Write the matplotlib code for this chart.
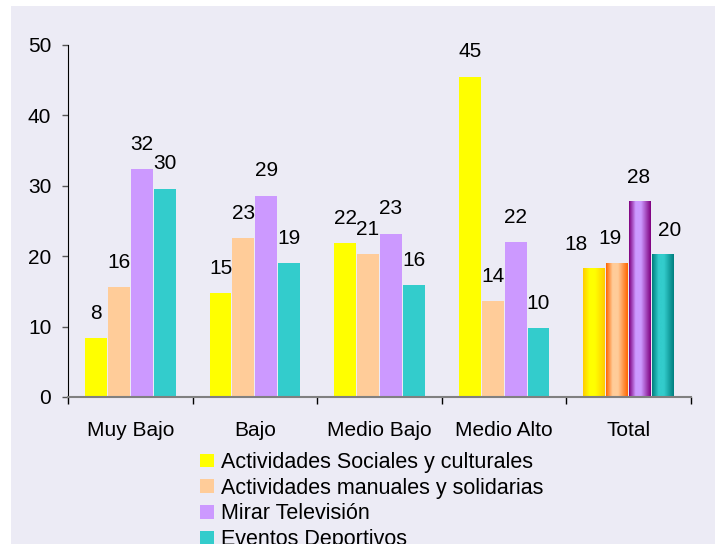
import numpy as np
import matplotlib.pyplot as plt
from matplotlib.colors import LinearSegmentedColormap
from matplotlib.patches import Rectangle

plt.rcParams['font.family'] = ['Liberation Sans', 'DejaVu Sans']

# categories and series
categorias = ['Muy Bajo', 'Bajo', 'Medio Bajo', 'Medio Alto', 'Total']
series = ['Actividades Sociales y culturales', 'Actividades manuales y solidarias',
          'Mirar Televisión', 'Eventos Deportivos']
sociales = [8.4, 14.8, 21.9, 45.5, 18.2]
manuales = [15.6, 22.6, 20.3, 13.6, 19.0]
television = [32.4, 28.6, 23.2, 22.0, 27.7]
deportivos = [29.6, 19.0, 15.9, 9.8, 20.2]
etiquetas = [
    [8, 15, 22, 45, 18],
    [16, 23, 21, 14, 19],
    [32, 29, 23, 22, 28],
    [30, 19, 16, 10, 20],
]

colores = ['#ffff00', '#ffcc99', '#cc99ff', '#33cccc']
# edge colours for the cylinder-like "Total" bars
bordes = ['#ffcc00', '#ff6600', '#800080', '#008080']
# labels of the Total group are spread out a bit (points)
desplaz_total = [-13, -5, -1, 5]

fondo = '#ecebf5'
fs = 15

fig = plt.figure(figsize=(7.15, 5.44), dpi=100, facecolor='white')
fig.patches.append(Rectangle((11 / 715, 0), 1, 1 - 6 / 544, transform=fig.transFigure,
                             facecolor=fondo, edgecolor='none', zorder=-1))
ax = fig.add_axes([68 / 715, 1 - 397 / 544, (691 - 68) / 715, (397 - 45) / 544])
ax.set_zorder(2)
ax.patch.set_visible(False)

x = np.arange(len(categorias))
ancho = 0.176
paso = 0.184
datos = [sociales, manuales, television, deportivos]

for i, (vals, col) in enumerate(zip(datos, colores)):
    pos = x + (i - 1.5) * paso
    ax.bar(pos[:-1], vals[:-1], width=ancho, color=col, label=series[i], zorder=2)
    # gradient bar for the Total group
    bt = ax.bar(pos[-1], vals[-1], width=ancho, color='none', zorder=2)[0]
    cmap = LinearSegmentedColormap.from_list(
        'g', [(0, bordes[i]), (0.3, col), (0.55, col), (1, bordes[i])])
    grad = np.linspace(0, 1, 64).reshape(1, -1)
    ax.imshow(grad, cmap=cmap, aspect='auto', zorder=2,
              extent=[bt.get_x(), bt.get_x() + bt.get_width(), 0, bt.get_height()])
    for j, (p, v, lab) in enumerate(zip(pos, vals, etiquetas[i])):
        dx = desplaz_total[i] if j == len(pos) - 1 else 0
        ax.annotate(str(lab), (p, v), xytext=(dx, 11), textcoords='offset points',
                    ha='center', va='bottom', fontsize=fs)

ax.set_xlim(-0.5, 4.47)
ax.set_ylim(0, 50)
ax.set_yticks([0, 10, 20, 30, 40, 50])
ax.tick_params(axis='y', labelsize=fs, length=4, width=1, color='#555555', pad=8)
ax.set_xticks(np.arange(-0.5, 5, 1))
ax.set_xticklabels([])
ax.set_xticks(x, minor=True)
ax.set_xticklabels(categorias, minor=True)
ax.tick_params(axis='x', which='major', length=5, width=1, color='black')
ax.tick_params(axis='x', which='minor', length=0, labelsize=fs, pad=17)

for s in ['top', 'right']:
    ax.spines[s].set_visible(False)
ax.spines['left'].set_color('black')
ax.spines['bottom'].set_color('#808080')
ax.spines['bottom'].set_linewidth(1.5)

fig.legend(loc='upper left', bbox_to_anchor=(200 / 715, 1 - 452 / 544), frameon=False,
           fontsize=15.5, borderpad=0, handlelength=0.65, handleheight=0.6,
           handletextpad=0.32, labelspacing=0.22, borderaxespad=0)

fig.savefig('out.png', dpi=100)
